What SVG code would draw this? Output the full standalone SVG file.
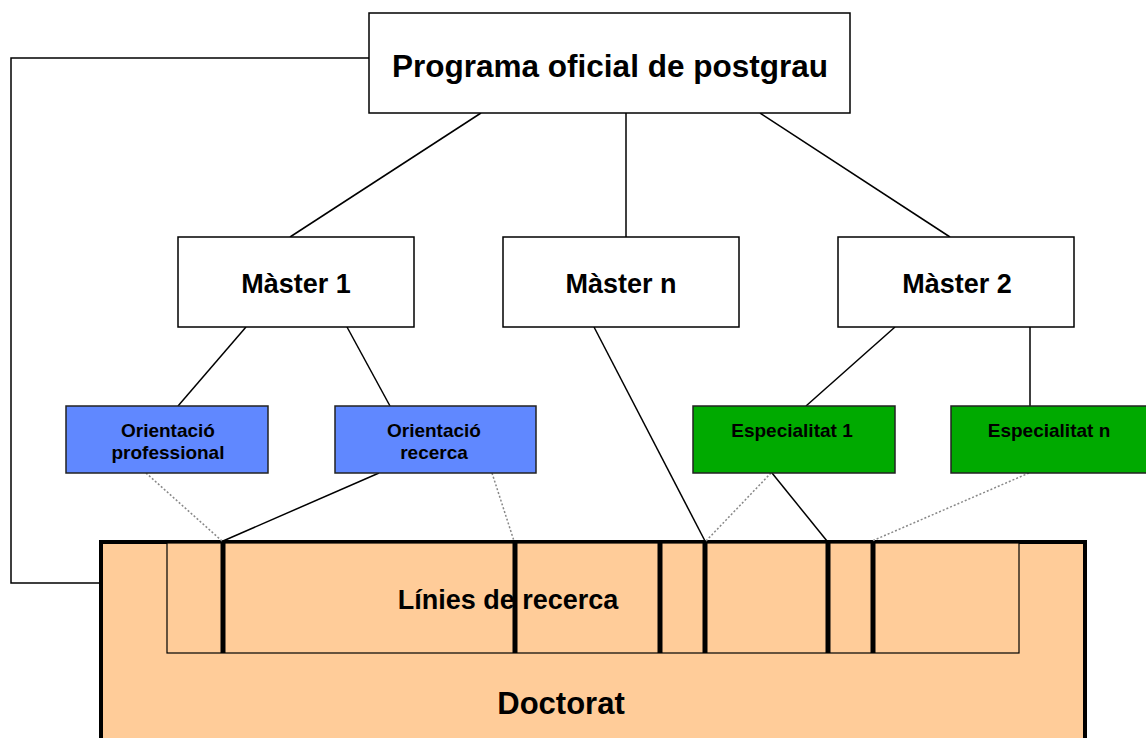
<svg xmlns="http://www.w3.org/2000/svg" width="1146" height="738" viewBox="0 0 1146 738">
<style>
.box{fill:#fff;stroke:#000;stroke-width:1.5}
.blue{fill:#6088FF;stroke:#222;stroke-width:1.5}
.green{fill:#00AA00;stroke:#222;stroke-width:1.5}
.t{font-family:"Liberation Sans",Arial,sans-serif;font-weight:bold;text-anchor:middle;fill:#000}
.ln{stroke:#000;stroke-width:1.5;fill:none}
.dot{stroke:#888;stroke-width:1.5;stroke-dasharray:2 2;fill:none}
.bar{stroke:#000;stroke-width:5}
.s{font-size:16.5px}
.m{font-size:23.5px}
</style>
<g id="doctorat">
<rect x="101" y="542" width="984" height="220" fill="#FFCC99" stroke="#000" stroke-width="4"/>
<text class="t" x="561" y="714" font-size="31">Doctorat</text>
</g>
<g id="linies">
<rect x="167" y="543" width="852" height="110" fill="#FFCC99" stroke="#000" stroke-width="1.2"/>
<text class="t" x="508" y="609" font-size="27">Línies de recerca</text>
<line class="bar" x1="223" y1="542" x2="223" y2="653"/>
<line class="bar" x1="515" y1="542" x2="515" y2="653"/>
<line class="bar" x1="660" y1="542" x2="660" y2="653"/>
<line class="bar" x1="705" y1="542" x2="705" y2="653"/>
<line class="bar" x1="828" y1="542" x2="828" y2="653"/>
<line class="bar" x1="873" y1="542" x2="873" y2="653"/>
</g>
<g id="connectors">
<polyline class="ln" points="369,58 11,58 11,583 100,583"/>
<line class="ln" x1="481" y1="113" x2="290" y2="237"/>
<line class="ln" x1="626" y1="113" x2="626" y2="237"/>
<line class="ln" x1="760" y1="113" x2="950" y2="237"/>
<line class="ln" x1="246" y1="327" x2="178" y2="406"/>
<line class="ln" x1="347" y1="327" x2="390" y2="406"/>
<line class="ln" x1="594" y1="327" x2="705" y2="541"/>
<line class="ln" x1="895" y1="327" x2="806" y2="406"/>
<line class="ln" x1="1030" y1="327" x2="1030" y2="406"/>
<line class="ln" x1="379" y1="473" x2="223" y2="541"/>
<line class="ln" x1="772" y1="473" x2="827" y2="541"/>
<line class="dot" x1="146" y1="473" x2="222" y2="541"/>
<line class="dot" x1="492" y1="473" x2="514" y2="541"/>
<line class="dot" x1="771" y1="473" x2="706" y2="541"/>
<line class="dot" x1="1029" y1="473" x2="872" y2="541"/>
</g>
<g id="programa">
<rect class="box" x="369" y="13" width="481" height="100"/>
<text class="t" x="610" y="77" font-size="31.5">Programa oficial de postgrau</text>
</g>
<g id="master1">
<rect class="box" x="178" y="237" width="236" height="90"/>
<text class="t" x="296" y="293" font-size="27">Màster 1</text>
</g>
<g id="mastern">
<rect class="box" x="503" y="237" width="236" height="90"/>
<text class="t" x="621" y="293" font-size="27">Màster n</text>
</g>
<g id="master2">
<rect class="box" x="838" y="237" width="236" height="90"/>
<text class="t" x="957" y="293" font-size="27">Màster 2</text>
</g>
<g id="orient-prof">
<rect class="blue" x="66" y="406" width="202" height="67"/>
<text class="t" x="168" y="437" font-size="19">Orientació</text>
<text class="t" x="168" y="459" font-size="19">professional</text>
</g>
<g id="orient-rec">
<rect class="blue" x="335" y="406" width="201" height="67"/>
<text class="t" x="434" y="437" font-size="19">Orientació</text>
<text class="t" x="434" y="459" font-size="19">recerca</text>
</g>
<g id="esp1">
<rect class="green" x="693" y="406" width="202" height="67"/>
<text class="t" x="792" y="437" font-size="19">Especialitat 1</text>
</g>
<g id="espn">
<rect class="green" x="951" y="406" width="202" height="67"/>
<text class="t" x="1049" y="437" font-size="19">Especialitat n</text>
</g>
</svg>
